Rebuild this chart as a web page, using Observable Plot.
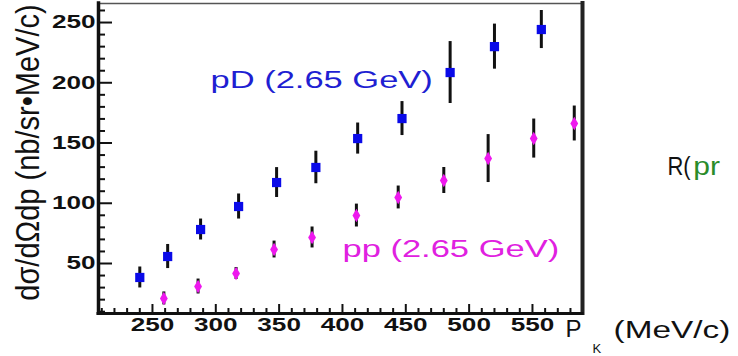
<!DOCTYPE html>
<html>
<head>
<meta charset="utf-8">
<script src="https://cdn.jsdelivr.net/npm/d3@7"></script>
<script src="https://cdn.jsdelivr.net/npm/@observablehq/plot@0.6"></script>
<style>
  html, body { margin: 0; padding: 0; background: #fff; overflow: hidden; }
</style>
</head>
<body>
<script>
// ---- data ----
const pK_pD  = [240, 262, 288, 318, 348, 379, 412, 447, 485, 520, 557];
const sig_pD = [38.4, 55.8, 78.2, 97.3, 117.2, 129.7, 153.7, 170.3, 208.5, 230.0, 244.2];
const err_pD = [8.7, 10.0, 8.7, 10.4, 12.4, 13.5, 12.9, 14.1, 25.7, 18.7, 15.8];

const pK_pp  = [259, 286, 316, 346, 376, 411, 444, 480, 515, 551, 583];
const sig_pp = [21.0, 30.9, 41.7, 61.6, 71.6, 89.8, 104.8, 118.9, 137.1, 153.7, 166.2];
const err_pp = [5.4, 6.2, 5.0, 7.0, 8.7, 9.5, 9.5, 10.8, 19.9, 16.2, 14.5];

const xTickLabels = [250, 300, 350, 400, 450, 500, 550];
const yTickLabels = [50, 100, 150, 200, 250];

const yTitle = "dσ/dΩdp (nb/sr•MeV/c)";
const seriesLabels = [
  {text: "pD (2.65 GeV)", x: 295.8, y: 201.4, color: "#1f1fd2"},
  {text: "pp (2.65 GeV)", x: 400.0, y: 61.9,  color: "#e020e0"}
];
const xTitleParts = [
  {text: "P",       x: 576.1, y: -5.0,  size: 24},
  {text: "K",       x: 597.4, y: -21.2, size: 13},
  {text: "(MeV/c)", x: 614.0, y: -5.3,  size: 23}
];
const sideText = [
  {text: "R(", x: 656.6, y: 130.5, color: "#111"},
  {text: "pr", x: 677.0, y: 130.5, color: "#2a8c2a"}
];

// ---- build tables ----
const pD = pK_pD.map((x, i) => ({x, y: sig_pD[i], lo: sig_pD[i] - err_pD[i], hi: sig_pD[i] + err_pD[i]}));
const pp = pK_pp.map((x, i) => ({x, y: sig_pp[i], lo: sig_pp[i] - err_pp[i], hi: sig_pp[i] + err_pp[i]}));

const xDomain = [207.4, 589.5];
const yDomain = [8.5, 265.8];
const xMinor = d3.range(210, 590, 10).filter(v => v % 50 !== 0);
const yMinor = d3.range(10, 266, 10).filter(v => v % 50 !== 0);

const W = 738, H = 356, mL = 98, mR = 156, mT = 3, mB = 43;
const fw = W - mL - mR, fh = H - mT - mB;

const chart = Plot.plot({
  width: W, height: H,
  marginLeft: mL, marginRight: mR, marginTop: mT, marginBottom: mB,
  x: {domain: xDomain},
  y: {domain: yDomain},
  style: {fontFamily: "'Liberation Sans', Arial, Helvetica, sans-serif", background: "white", overflow: "visible", color: "#111"},
  marks: [
    // inward ticks
    Plot.ruleX(xTickLabels, {x: d => d, insetTop: fh - 9, stroke: "#111", strokeWidth: 2}),
    Plot.ruleX(xMinor, {x: d => d, insetTop: fh - 5, stroke: "#111", strokeWidth: 2}),
    Plot.ruleY(yTickLabels, {y: d => d, insetRight: fw - 14, stroke: "#111", strokeWidth: 2}),
    Plot.ruleY(yMinor, {y: d => d, insetRight: fw - 7, stroke: "#111", strokeWidth: 2}),
    // frame
    Plot.ruleY([yDomain[1]], {y: d => d, stroke: "#555", strokeWidth: 1.5}),
    Plot.ruleX([xDomain[1]], {x: d => d, stroke: "#222", strokeWidth: 4, strokeLinecap: "square"}),
    Plot.ruleX([xDomain[0]], {x: d => d, stroke: "#111", strokeWidth: 3.5, strokeLinecap: "square"}),
    Plot.ruleY([yDomain[0]], {y: d => d, stroke: "#111", strokeWidth: 3, strokeLinecap: "square"}),
    // axes labels
    Plot.axisX(xTickLabels, {tickSize: 0, tickPadding: 5, fontSize: 18, fontWeight: "bold", label: null}),
    Plot.axisY(yTickLabels, {tickSize: 0, tickPadding: 3, fontSize: 18, fontWeight: "bold", label: null}),
    // error bars
    Plot.ruleX(pD, {x: "x", y1: "lo", y2: "hi", stroke: "#111", strokeWidth: 3}),
    Plot.ruleX(pp, {x: "x", y1: "lo", y2: "hi", stroke: "#111", strokeWidth: 3}),
    // markers
    Plot.dot(pD, {x: "x", y: "y", symbol: "square", r: 5.2, fill: "#0a0ae8", stroke: "none"}),
    Plot.dot(pp, {x: "x", y: "y", symbol: "diamond", r: 4.1, fill: "#ee18ee", stroke: "none"}),
    // texts
    Plot.text(seriesLabels, {x: "x", y: "y", text: "text", fill: "color", fontSize: 23, textAnchor: "start", lineAnchor: "middle"}),
    Plot.text([yTitle], {x: 152.1, y: 142.1, text: d => d, rotate: -90, fontSize: 29, textAnchor: "middle", lineAnchor: "middle", fill: "#111"}),
    Plot.text(xTitleParts, {x: "x", y: "y", text: "text", fontSize: d => d.size, textAnchor: "start", lineAnchor: "middle", fill: "#111"}),
    Plot.text(sideText, {x: "x", y: "y", text: "text", fill: "color", fontSize: 25, textAnchor: "start", lineAnchor: "middle"})
  ]
});

document.body.append(chart);

// the reference's lettering is stretched horizontally
const stretchOf = s => {
  if (xTickLabels.map(String).includes(s) || yTickLabels.map(String).includes(s)) return 1.45;
  if (seriesLabels.some(d => d.text === s)) return 1.5;
  if (s === "(MeV/c)") return 1.45;
  if (s === "pr") return 1.2;
  if (s === "R(") return 0.88;
  return 1;
};
chart.querySelectorAll("text").forEach(t => {
  const s = t.textContent.trim();
  if (s === yTitle) {
    const tr = t.getAttribute("transform");
    if (tr && tr.includes("rotate")) t.setAttribute("transform", tr.replace("rotate", "scale(1.15,1) rotate"));
    return;
  }
  const k = stretchOf(s);
  if (k === 1) return;
  const w = t.getComputedTextLength();
  t.setAttribute("textLength", (w * k).toFixed(1));
  t.setAttribute("lengthAdjust", "spacingAndGlyphs");
});
</script>
</body>
</html>
